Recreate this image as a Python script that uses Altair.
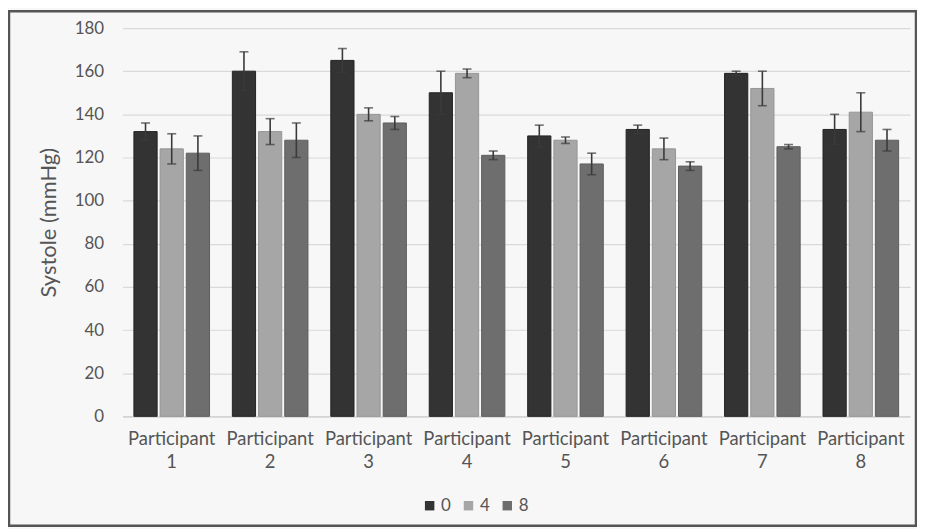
import altair as alt
import pandas as pd

participants = ["Participant 1", "Participant 2", "Participant 3", "Participant 4",
                "Participant 5", "Participant 6", "Participant 7", "Participant 8"]
weeks = ["0", "4", "8"]
week0 = [132, 160, 165, 150, 130, 133, 159, 133]
err0 = [4, 9, 5.5, 10, 5, 2, 1, 7]
week4 = [124, 132, 140, 159, 128, 124, 152, 141]
err4 = [7, 6, 3, 2, 1.5, 5, 8, 9]
week8 = [122, 128, 136, 121, 117, 116, 125, 128]
err8 = [8, 8, 3, 2, 5, 2, 1, 5]

rows = []
for w, vals, errs in zip(weeks, [week0, week4, week8], [err0, err4, err8]):
    for p, v, e in zip(participants, vals, errs):
        rows.append({"participant": p, "week": w, "mean": v, "lo": v - e, "hi": v + e})
df = pd.DataFrame(rows)

FONT = "Lato"
TXT = "#555555"
TITLE = "Systole (mmHg)"

x = alt.X("participant:N", sort=participants,
          scale=alt.Scale(paddingInner=0.232, paddingOuter=0.116),
          axis=alt.Axis(title=None, labelAngle=0, labelExpr="split(datum.label, ' ')",
                        labelFontSize=18.5, labelLineHeight=23, labelPadding=13,
                        labelColor=TXT, labelFont=FONT, ticks=False,
                        domainColor="#d0d0d0", domainWidth=1.2))
xo = alt.XOffset("week:N", sort=weeks, scale=alt.Scale(paddingInner=0.114))
yscale = alt.Scale(domain=[0, 180], nice=False)
yaxis = alt.Axis(values=list(range(0, 181, 20)), title=TITLE, titleFont=FONT,
                 titleFontSize=22, titleFontWeight="normal", titleColor=TXT,
                 titlePadding=14, labelFont=FONT, labelFontSize=17, labelColor=TXT,
                 labelPadding=19, ticks=False, domain=False,
                 gridColor="#d9d9d9", gridWidth=1.2)

color = alt.Color("week:N", scale=alt.Scale(domain=weeks, range=["#333333", "#a6a6a6", "#6e6e6e"]),
                  legend=alt.Legend(title=None, orient="none", legendX=300, legendY=471,
                                    direction="horizontal", symbolType="square",
                                    symbolSize=90, symbolStrokeWidth=0,
                                    labelFont=FONT, labelFontSize=17, labelColor=TXT,
                                    labelOffset=3, columnPadding=9))
stroke = alt.Stroke("week:N", scale=alt.Scale(domain=weeks, range=["#222222", "#959595", "#5e5e5e"]),
                    legend=None)

base = alt.Chart(df)
bars = base.mark_bar(strokeWidth=1).encode(
    x=x, xOffset=xo,
    y=alt.Y("mean:Q", scale=yscale, axis=yaxis, title=TITLE),
    color=color, stroke=stroke)
rules = base.mark_rule(color="#3a3a3a", strokeWidth=1.6).encode(
    x=x, xOffset=xo, y=alt.Y("lo:Q", scale=yscale, axis=yaxis, title=TITLE), y2="hi:Q")
cap_hi = base.mark_tick(color="#3a3a3a", thickness=1.6, size=9).encode(
    x=x, xOffset=xo, y=alt.Y("hi:Q", scale=yscale, axis=yaxis, title=TITLE))
cap_lo = base.mark_tick(color="#3a3a3a", thickness=1.6, size=9).encode(
    x=x, xOffset=xo, y=alt.Y("lo:Q", scale=yscale, axis=yaxis, title=TITLE))

frame = alt.Chart(pd.DataFrame({"f": [0]})).mark_rect(
    fillOpacity=0, stroke="#555555", strokeWidth=2.5).encode(
    x=alt.value(-114), x2=alt.value(797), y=alt.value(-17), y2=alt.value(500))

chart = alt.layer(bars, rules, cap_hi, cap_lo, frame).properties(
    width=791, height=390,
    padding={"left": 115, "top": 19, "right": 7, "bottom": 112},
    autosize="none",
    background="#f7f7f7",
).configure_view(stroke=None)

chart.save("out.html", embed_options={"renderer": "svg", "actions": False})
